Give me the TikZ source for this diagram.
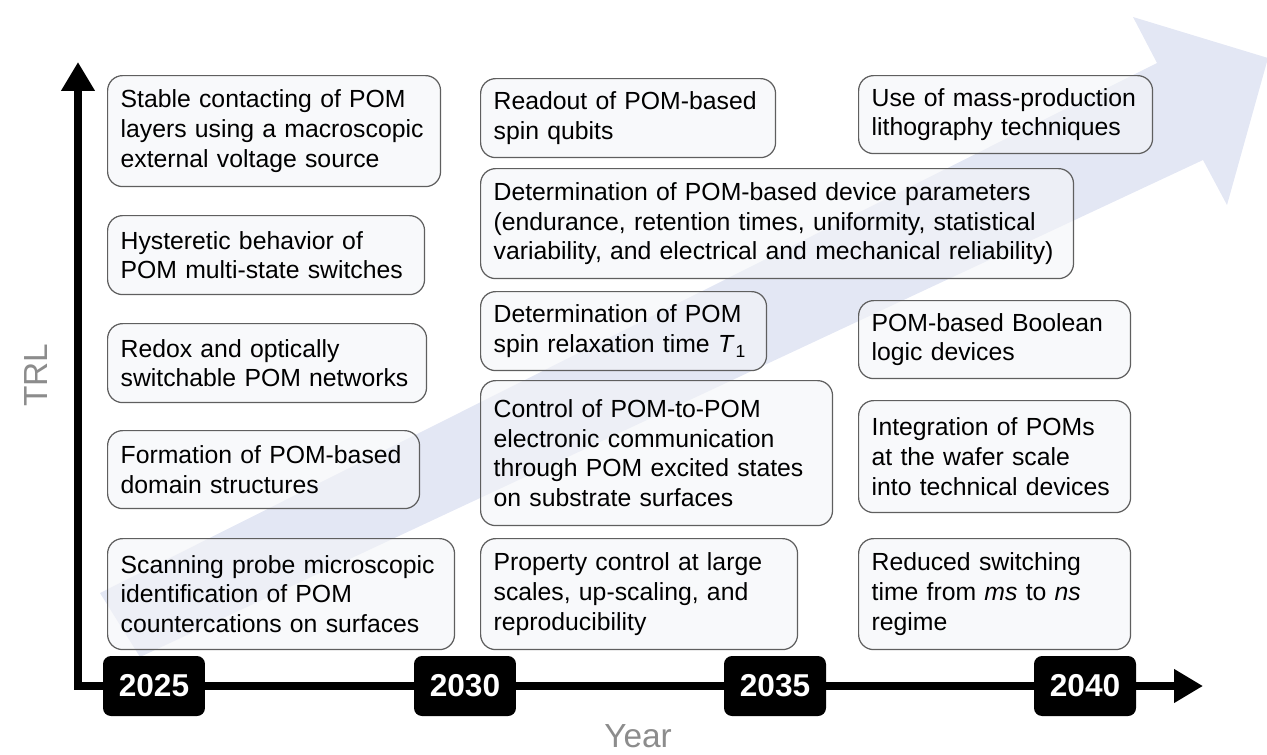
\documentclass[tikz,border=0pt]{standalone}
\usepackage{fontspec}
\setmainfont{Liberation Sans}
\usetikzlibrary{arrows.meta}
\hyphenpenalty=10000

\definecolor{trendblue}{RGB}{227,231,244}
\definecolor{boxfill}{RGB}{244,245,248}
\definecolor{boxline}{RGB}{95,95,95}
\definecolor{labelgray}{RGB}{140,140,140}

\begin{document}
\begin{tikzpicture}[x=0.02cm,y=-0.02cm,
      milestone/.style={draw=boxline,line width=0.7pt,fill=boxfill,fill opacity=0.6,text opacity=1,
        rounded corners=0.3cm,anchor=north west,inner xsep=0.26cm,inner ysep=0pt,align=left,
        font=\fontsize{14.1}{17}\selectfont},
      yearbox/.style={fill=black,rounded corners=0.16cm,minimum width=2.04cm,minimum height=1.2cm,
        inner sep=0pt,text=white,font=\fontsize{18}{18}\selectfont\bfseries},
      timeaxis/.style={line width=5pt,{Triangle[length=0.58cm,width=0.64cm]}-{Triangle[length=0.58cm,width=0.64cm]}},
      axislabel/.style={text=labelgray,font=\fontsize{19}{19}\selectfont},
    ]
    \useasboundingbox (0,0) rectangle (1267,754);

    % trend arrow in the background
    \fill[trendblue] (100,593) -- (1157,63) -- (1133,17) -- (1268,58) -- (1227,205)
        -- (1203,160) -- (140,657) -- cycle;

    \coordinate (origin) at (78,686);
    \coordinate (ytop) at (78,62);
    \coordinate (xend) at (1203,686);
    \draw[timeaxis] (ytop) -- (origin) -- (xend);

    \node[yearbox] (y2025) at (154,686) {2025};
    \node[yearbox] (y2030) at (465,686) {2030};
    \node[yearbox] (y2035) at (775,686) {2035};
    \node[yearbox] (y2040) at (1085,686) {2040};

    \node[axislabel,rotate=90] (trl) at (36,375) {TRL};
    \node[axislabel,anchor=base] (year) at (638,747) {Year};

    % 2025 column
    \node[milestone,text width=6.14cm,minimum height=2.22cm] (contact) at (107,75)
        {Stable contacting of POM\\layers using a macroscopic\\external voltage source};
    \node[milestone,text width=5.82cm,minimum height=1.58cm] (hyster) at (107,215)
        {Hysteretic behavior of\\POM multi-state switches};
    \node[milestone,text width=5.86cm,minimum height=1.58cm] (redox) at (107,323)
        {Redox and optically\\switchable POM networks};
    \node[milestone,text width=5.72cm,minimum height=1.56cm] (domain) at (107,430)
        {Formation of POM-based\\domain structures};
    \node[milestone,text width=6.42cm,minimum height=2.22cm] (probe) at (107,538)
        {Scanning probe microscopic\\identification of POM\\countercations on surfaces};

    % 2030 column
    \node[milestone,text width=5.38cm,minimum height=1.58cm] (readout) at (480,78)
        {Readout of POM-based\\spin qubits};
    \node[milestone,text width=11.34cm,minimum height=2.20cm] (params) at (480,168)
        {Determination of POM-based device parameters\\(endurance, retention times, uniformity, statistical\\variability, and electrical and mechanical reliability)};
    \node[milestone,text width=5.20cm,minimum height=1.58cm] (relax) at (480,291)
        {Determination of POM\\spin relaxation time \textit{T}\kern0.5pt\raisebox{-0.4ex}{\fontsize{10}{10}\selectfont 1}};
    \node[milestone,text width=6.52cm,minimum height=2.90cm] (comm) at (480,380)
        {Control of POM-to-POM\\electronic communication\\through POM excited states\\on substrate surfaces};
    \node[milestone,text width=5.82cm,minimum height=2.22cm] (scaling) at (480,538)
        {Property control at large\\scales, up-scaling, and\\reproducibility};

    % 2035--2040 column
    \node[milestone,text width=5.36cm,minimum height=1.56cm] (litho) at (858,75)
        {Use of mass-production\\lithography techniques};
    \node[milestone,text width=4.92cm,minimum height=1.56cm] (logic) at (858,300)
        {POM-based Boolean\\logic devices};
    \node[milestone,text width=4.92cm,minimum height=2.24cm] (wafer) at (858,400)
        {Integration of POMs\\at the wafer scale\\into technical devices};
    \node[milestone,text width=4.92cm,minimum height=2.22cm] (switch) at (858,538)
        {Reduced switching\\time from \textit{ms} to \textit{ns}\\regime};
\end{tikzpicture}
\end{document}
